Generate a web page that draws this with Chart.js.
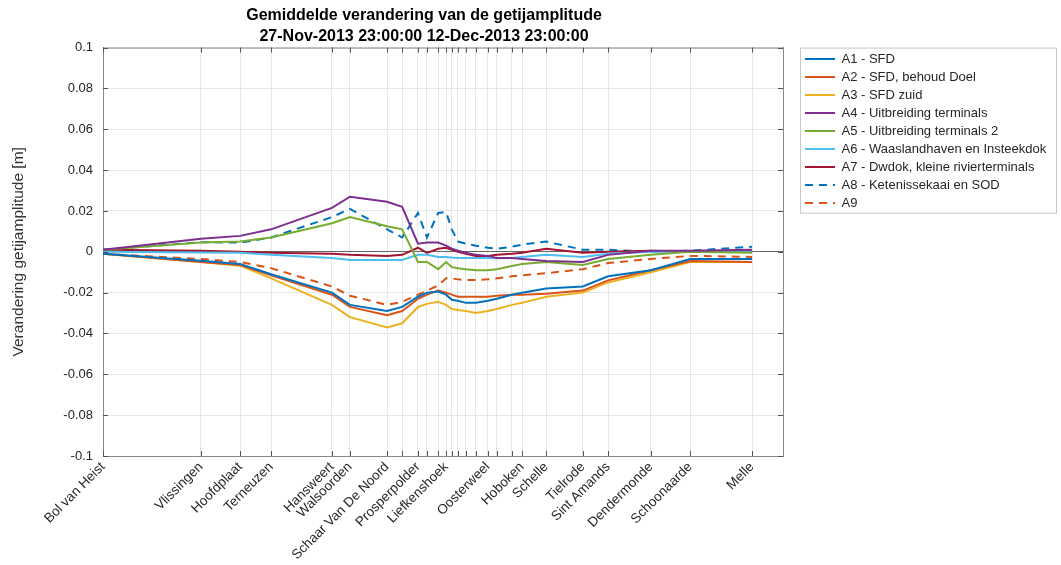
<!DOCTYPE html>
<html>
<head>
<meta charset="utf-8">
<script src="https://cdn.jsdelivr.net/npm/chart.js@4.4.1/dist/chart.umd.min.js"></script>
<style>
  html, body { margin: 0; padding: 0; background: #fff; }
</style>
</head>
<body>
<canvas id="chart" width="1061" height="565"></canvas>
<script>
// station positions along the estuary (km from Bol van Heist) and their labels
const stationKm = [0, 27.2, 38.1, 46.7, 63.6, 68.6, 78.9, 83.1, 87.5, 90.0, 93.1, 95.3, 96.9, 98.6,
  100.8, 103.6, 106.9, 109.4, 113.6, 116.4, 123.1, 133.3, 140.3, 152.2, 163.1, 180.3];
const stationNames = ['Bol van Heist', 'Vlissingen', 'Hoofdplaat', 'Terneuzen', 'Hansweert', 'Walsoorden',
  'Schaar Van De Noord', '', 'Prosperpolder', '', '', 'Liefkenshoek', '', '', '', '', 'Oosterweel', '', '',
  'Hoboken', 'Schelle', 'Tielrode', 'Sint Amands', 'Dendermonde', 'Schoonaarde', 'Melle'];
const yTicks = [-0.1, 0.1, 0.02];

const seriesNames = ['A1 - SFD', 'A2 - SFD, behoud Doel', 'A3 - SFD zuid', 'A4 - Uitbreiding terminals',
  'A5 - Uitbreiding terminals 2', 'A6 - Waaslandhaven en Insteekdok', 'A7 - Dwdok, kleine rivierterminals',
  'A8 - Ketenissekaai en SOD', 'A9'];

const a1 = [-0.001, -0.0044, -0.006, -0.011, -0.020, -0.026, -0.029, -0.027, -0.022, -0.020, -0.0195, -0.021, -0.0235,
  -0.024, -0.025, -0.025, -0.024, -0.023, -0.021, -0.020, -0.018, -0.017, -0.012, -0.009, -0.0035, -0.0035];
const a2 = [-0.001, -0.005, -0.0065, -0.0115, -0.021, -0.027, -0.031, -0.029, -0.023, -0.021, -0.019, -0.020, -0.021,
  -0.022, -0.022, -0.022, -0.022, -0.0215, -0.021, -0.021, -0.0205, -0.019, -0.014, -0.009, -0.0045, -0.005];
const a3 = [-0.001, -0.005, -0.0068, -0.013, -0.026, -0.032, -0.037, -0.035, -0.027, -0.0255, -0.0245, -0.026, -0.028,
  -0.0285, -0.029, -0.030, -0.029, -0.028, -0.026, -0.025, -0.022, -0.020, -0.015, -0.010, -0.005, -0.005];
const a4 = [0.001, 0.0064, 0.0078, 0.011, 0.0215, 0.027, 0.0245, 0.022, 0.004, 0.0045, 0.0045, 0.003, 0.0015,
  0.0005, -0.0005, -0.0015, -0.002, -0.003, -0.003, -0.0035, -0.0045, -0.005, -0.0015, 0.0005, 0.0005, 0.001];
const a5 = [0.001, 0.0045, 0.005, 0.007, 0.014, 0.017, 0.0125, 0.011, -0.005, -0.005, -0.0085, -0.005, -0.0075,
  -0.008, -0.0085, -0.009, -0.009, -0.0085, -0.007, -0.006, -0.005, -0.0065, -0.0035, -0.0015, 0, -0.0005];
const a6 = [0, -0.0003, -0.0005, -0.0015, -0.003, -0.004, -0.004, -0.004, -0.0015, -0.0015, -0.0025, -0.0025, -0.0028,
  -0.003, -0.003, -0.003, -0.003, -0.0032, -0.003, -0.0025, -0.0015, -0.0025, -0.001, 0, 0, 0.0005];
const a7 = [0.001, 0.0005, 0, -0.0005, -0.001, -0.0015, -0.002, -0.0015, 0.002, -0.0005, 0.0015, 0.002, 0.001,
  0, -0.001, -0.002, -0.002, -0.0015, -0.001, -0.0005, 0.0015, -0.0005, 0, 0.0005, 0, 0];
const a8 = [0.001, 0.0047, 0.0045, 0.007, 0.017, 0.021, 0.011, 0.007, 0.019, 0.007, 0.019, 0.0195, 0.011,
  0.005, 0.004, 0.003, 0.002, 0.0015, 0.0025, 0.0035, 0.005, 0.001, 0.001, 0, 0.0005, 0.0025];
const a9 = [-0.001, -0.0035, -0.005, -0.008, -0.017, -0.0215, -0.026, -0.0245, -0.021, -0.019, -0.0165, -0.013, -0.013,
  -0.0135, -0.0138, -0.0138, -0.0135, -0.013, -0.012, -0.0115, -0.0105, -0.0085, -0.0055, -0.0035, -0.002, -0.0025];

const seriesValues = [a1, a2, a3, a4, a5, a6, a7, a8, a9];
const lineColors = ['#0072BD', '#D95319', '#EDB120', '#7E2F8E', '#77AC30', '#4DBEEE', '#A2142F', '#0072BD', '#D95319'];
const FONT = "'Liberation Sans', Arial, Helvetica, sans-serif";

// MATLAB-ish box: top edge, inward ticks and a border round the legend
const axesBox = {
  id: 'axesBox',
  beforeLayout(chart) {
    const lg = chart.legend;
    if (lg && !lg._fixedWidth) {
      const fit = lg.fit;
      lg.fit = function () { fit.call(this); this.width = 257; };
      lg._fixedWidth = true;
    }
  },
  afterLayout(chart) {
    // title sits a bit left of the axes centre in the original
    if (chart.titleBlock) {
      chart.titleBlock.left -= 19;
      chart.titleBlock.right -= 19;
    }
  },
  afterDraw(chart) {
    const { ctx, chartArea: a, scales } = chart;
    ctx.save();
    ctx.lineWidth = 1;
    ctx.strokeStyle = '#888';
    ctx.beginPath();
    ctx.moveTo(a.left, a.top + 0.5);
    ctx.lineTo(a.right, a.top + 0.5);
    ctx.stroke();

    ctx.strokeStyle = '#555';
    ctx.beginPath();
    stationKm.forEach(v => {
      const px = Math.round(scales.x.getPixelForValue(v)) + 0.5;
      ctx.moveTo(px, a.bottom); ctx.lineTo(px, a.bottom - 5);
      ctx.moveTo(px, a.top); ctx.lineTo(px, a.top + 5);
    });
    scales.y.ticks.forEach(t => {
      const py = Math.round(scales.y.getPixelForValue(t.value)) + 0.5;
      ctx.moveTo(a.left, py); ctx.lineTo(a.left + 5, py);
      ctx.moveTo(a.right, py); ctx.lineTo(a.right - 5, py);
    });
    ctx.stroke();

    const lg = chart.legend;
    const boxes = lg.legendHitBoxes || [];
    if (boxes.length) {
      const last = boxes[boxes.length - 1];
      ctx.strokeStyle = '#c8c8c8';
      ctx.strokeRect(lg.left + 0.5, lg.top + 0.5, lg.width - 1, last.top + last.height + 3 - lg.top);
    }
    ctx.restore();
  }
};

const datasets = seriesNames.map((name, i) => ({
  label: name,
  data: stationKm.map((x, j) => ({ x: x, y: seriesValues[i][j] })),
  borderColor: lineColors[i],
  backgroundColor: lineColors[i],
  borderWidth: 2,
  borderDash: i >= 7 ? [8, 6] : [],
  pointRadius: 0,
  tension: 0,
  fill: false
}));

const legendLabels = chart => Chart.defaults.plugins.legend.labels.generateLabels(chart).map(item => {
  const ds = chart.data.datasets[item.datasetIndex];
  item.lineDash = ds.borderDash;
  item.lineWidth = 2;
  return item;
});

new Chart(document.getElementById('chart').getContext('2d'), {
  type: 'line',
  data: { datasets: datasets },
  options: {
    responsive: false,
    animation: false,
    layout: { padding: { left: 4, right: 4, top: 0, bottom: 0 } },
    plugins: {
      title: {
        display: true,
        fullSize: false,
        text: ['Gemiddelde verandering van de getijamplitude', '27-Nov-2013 23:00:00 12-Dec-2013 23:00:00'],
        color: '#000',
        font: { family: FONT, size: 16, weight: 'bold', lineHeight: 1.3 },
        padding: { top: 5, bottom: 1 }
      },
      legend: {
        position: 'right',
        align: 'start',
        fullSize: false,
        labels: {
          usePointStyle: true,
          pointStyle: 'line',
          pointStyleWidth: 30,
          padding: 5,
          color: '#262626',
          font: { family: FONT, size: 13 },
          generateLabels: legendLabels
        }
      },
      tooltip: { enabled: false }
    },
    scales: {
      x: {
        type: 'linear',
        min: 0,
        max: 188.9,
        afterBuildTicks: s => { s.ticks = stationKm.map(v => ({ value: v })); },
        afterFit: s => { s.height = 109; },
        ticks: {
          autoSkip: false,
          minRotation: 45,
          maxRotation: 45,
          padding: 3,
          color: '#262626',
          font: { family: FONT, size: 13.5 },
          callback: (v, i) => stationNames[i]
        },
        grid: { color: '#e6e6e6', drawTicks: false },
        border: { color: '#888' }
      },
      y: {
        min: yTicks[0],
        max: yTicks[1],
        afterFit: s => { s.width = 99; },
        ticks: {
          stepSize: yTicks[2],
          padding: 10,
          color: '#262626',
          font: { family: FONT, size: 13 },
          callback: v => String(Number(v.toFixed(2)))
        },
        grid: {
          drawTicks: false,
          color: c => (c.tick && Math.abs(c.tick.value) < 1e-9 ? '#666' : '#e6e6e6')
        },
        border: { color: '#888' },
        title: {
          display: true,
          text: 'Verandering getijamplitude [m]',
          color: '#333',
          font: { family: FONT, size: 15.5 },
          padding: { top: 5, bottom: 0 }
        }
      },
      yR: {
        position: 'right',
        min: yTicks[0],
        max: yTicks[1],
        afterFit: s => { s.width = 17; },
        ticks: { display: false },
        grid: { drawOnChartArea: false, drawTicks: false },
        border: { color: '#888' }
      }
    }
  },
  plugins: [axesBox]
});
</script>
</body>
</html>
